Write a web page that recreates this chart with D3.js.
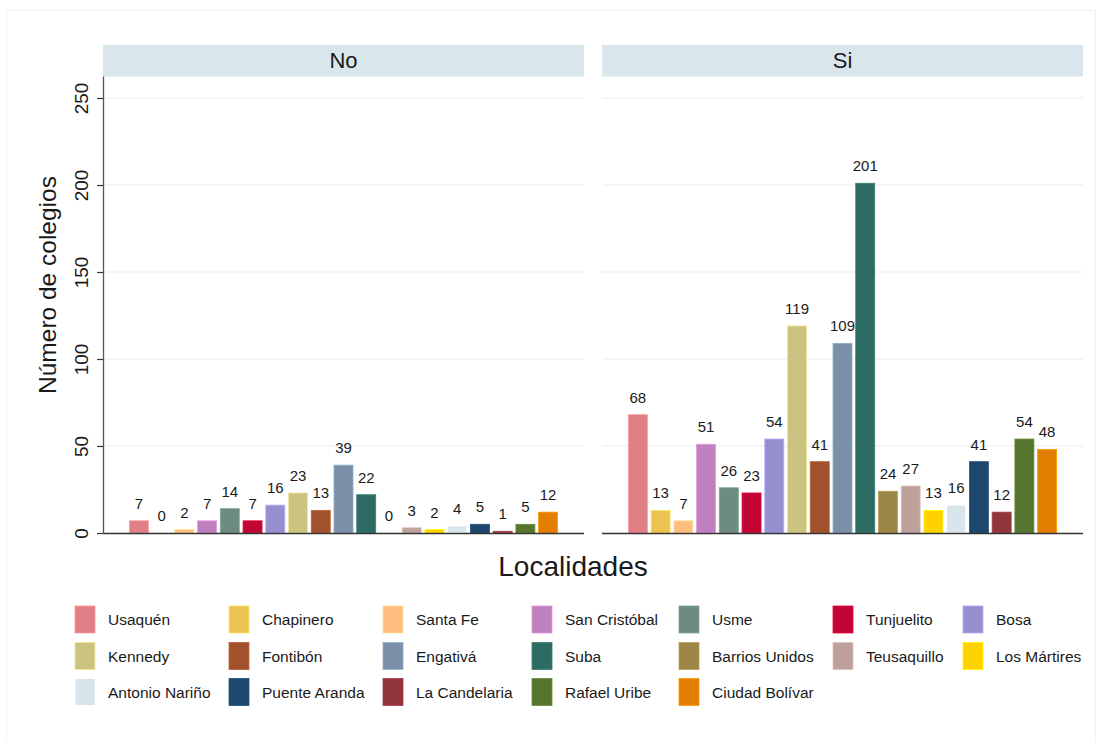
<!DOCTYPE html>
<html>
<head>
<meta charset="utf-8">
<script src="https://cdn.jsdelivr.net/npm/d3@7"></script>
<style>
  html, body { margin: 0; padding: 0; background: #ffffff; }
  svg { display: block; font-family: "Liberation Sans", Arial, sans-serif; }
</style>
</head>
<body>
<svg id="chart" width="1102" height="742"></svg>
<script>
// ---- data ----
const categories = ["Usaquén","Chapinero","Santa Fe","San Cristóbal","Usme","Tunjuelito","Bosa",
  "Kennedy","Fontibón","Engativá","Suba","Barrios Unidos","Teusaquillo","Los Mártires",
  "Antonio Nariño","Puente Aranda","La Candelaria","Rafael Uribe","Ciudad Bolívar"];
const noValues = [7,0,2,7,14,7,16,23,13,39,22,0,3,2,4,5,1,5,12];
const siValues = [68,13,7,51,26,23,54,119,41,109,201,24,27,13,16,41,12,54,48];
const colors = ["#e07f85","#ecc251","#ffbd7f","#c07fbe","#6d8b7e","#c10534","#958fd0",
  "#cbc37f","#a0522d","#7b90a8","#2e6b63","#9b8646","#bea19a","#ffd200",
  "#d8e5eb","#1e476e","#90353b","#55752f","#e37e00"];
const panels = ["No","Si"];
const yTicks = [0,50,100,150,200,250];
const yTitle = "Número de colegios";
const xTitle = "Localidades";

// ---- layout ----
const svg = d3.select("#chart");
const panelX = [[103,584],[602,1083]];
const stripTop = 45, stripBottom = 76.5;
const plotBottom = 533;
const textColor = "#1a1a1a";

// faint outer frame
svg.append("rect").attr("x",6.5).attr("y",10.5).attr("width",1089).attr("height",740)
  .attr("fill","none").attr("stroke","#eef2f4").attr("stroke-width",1);

const y = d3.scaleLinear().domain([0,250]).range([plotBottom, 98]);
const colorScale = d3.scaleOrdinal().domain(categories).range(colors);
const seriesByPanel = {"No": noValues, "Si": siValues};

panels.forEach((p, i) => {
  const [x0, x1] = panelX[i];
  const x = d3.scaleBand().domain(categories).range([x0, x1])
    .paddingInner(0.165).paddingOuter(1.16);
  const g = svg.append("g");

  // strip
  g.append("rect").attr("x", x0).attr("y", stripTop).attr("width", x1 - x0)
    .attr("height", stripBottom - stripTop).attr("fill", "#d9e6ec");
  g.append("text").attr("x", (x0 + x1) / 2).attr("y", (stripTop + stripBottom) / 2)
    .attr("text-anchor","middle").attr("dominant-baseline","central")
    .attr("font-size", 22).attr("fill", textColor).text(p);

  // gridlines
  g.selectAll("line.grid").data(yTicks.filter(t => t > 0)).join("line")
    .attr("class","grid")
    .attr("x1", x0).attr("x2", x1)
    .attr("y1", d => y(d)).attr("y2", d => y(d))
    .attr("stroke", "#e6eef1").attr("stroke-width", 1.2);

  const vals = seriesByPanel[p];
  const data = categories.map((c, k) => ({c, v: vals[k]}));

  // bars
  g.selectAll("rect.bar").data(data).join("rect")
    .attr("class","bar")
    .attr("x", d => x(d.c)).attr("width", x.bandwidth())
    .attr("y", d => y(d.v)).attr("height", d => y(0) - y(d.v))
    .attr("fill", d => colorScale(d.c))
    .attr("stroke", d => d3.color(colorScale(d.c)).brighter(0.5))
    .attr("stroke-width", 0.8);

  // value labels
  g.selectAll("text.val").data(data).join("text")
    .attr("class","val")
    .attr("x", d => x(d.c) + x.bandwidth() / 2)
    .attr("y", d => y(d.v) - 12)
    .attr("text-anchor","middle")
    .attr("font-size", 15).attr("fill", textColor)
    .text(d => d.v);

  // bottom axis line
  g.append("line").attr("x1", x0).attr("x2", x1)
    .attr("y1", plotBottom + 0.5).attr("y2", plotBottom + 0.5)
    .attr("stroke", "#333").attr("stroke-width", 1.3);

  if (i === 0) {
    const ax = svg.append("g").attr("transform", `translate(${x0},0)`)
      .call(d3.axisLeft(y).tickValues(yTicks).tickSize(6).tickFormat(d3.format("d")));
    ax.select(".domain").remove();
    ax.selectAll(".tick line").attr("stroke","#333").attr("stroke-width",1.2);
    ax.selectAll(".tick text").attr("font-size", 19).attr("fill", textColor)
      .attr("font-family", "Liberation Sans, Arial, sans-serif")
      .attr("x", null).attr("dy", null)
      .attr("text-anchor","middle")
      .attr("transform", "translate(-15,0) rotate(-90)");
    svg.append("line").attr("x1", x0 + 0.5).attr("x2", x0 + 0.5)
      .attr("y1", stripBottom).attr("y2", plotBottom + 1)
      .attr("stroke", "#555").attr("stroke-width", 1.3);
  }
});

// axis titles
svg.append("text").attr("transform","translate(56,285) rotate(-90)")
  .attr("text-anchor","middle").attr("font-size", 24.5).attr("fill", textColor).text(yTitle);
svg.append("text").attr("x", 573).attr("y", 576)
  .attr("text-anchor","middle").attr("font-size", 28).attr("fill", textColor).text(xTitle);

// legend
const legendCols = [75, 229, 383, 532, 679, 833, 963];
const legendRows = [619.5, 656, 692];
const lg = svg.append("g");
categories.forEach((c, k) => {
  const col = k % 7, row = Math.floor(k / 7);
  const lx = legendCols[col], ly = legendRows[row];
  lg.append("rect").attr("x", lx).attr("y", ly - 13.5).attr("width", 20).attr("height", 27)
    .attr("fill", colorScale(c))
    .attr("stroke", d3.color(colorScale(c)).brighter(0.5)).attr("stroke-width", 0.8);
  lg.append("text").attr("x", lx + 33).attr("y", ly)
    .attr("dominant-baseline","central").attr("font-size", 15.5).attr("fill", textColor).text(c);
});
</script>
</body>
</html>
